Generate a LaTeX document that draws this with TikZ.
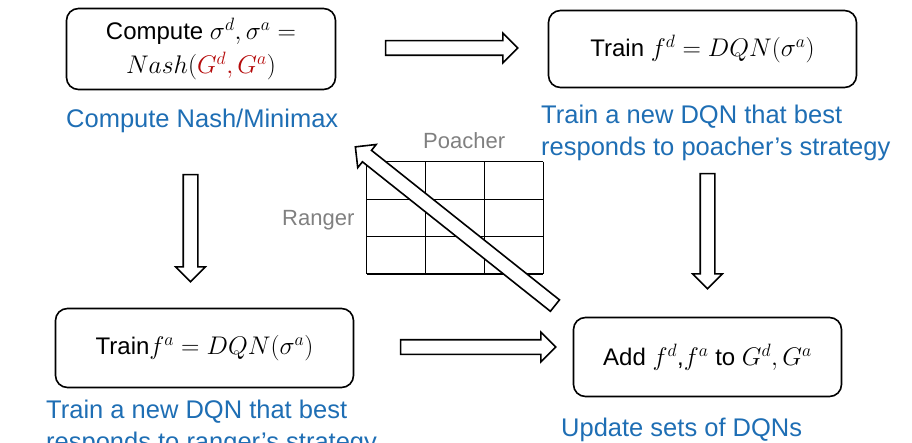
\RequirePackage{fix-cm}
\documentclass[tikz,border=0pt]{standalone}
\usepackage[no-math]{fontspec}
\setmainfont{Liberation Sans}
\usetikzlibrary{shapes.arrows}
\definecolor{capblue}{RGB}{30,110,180}
\definecolor{nashred}{RGB}{180,10,10}
\definecolor{labelgray}{RGB}{128,128,128}
\newcommand{\boxmath}[1]{{\fontsize{25.5}{34}\selectfont$#1$}}
\tikzset{
	stepbox/.style={draw, rounded corners=12pt, line width=1.6pt, align=center, inner sep=0pt, font=\fontsize{24}{34}\selectfont},
	caption/.style={anchor=north west, inner sep=0pt, align=left, text=capblue, font=\fontsize{25.5}{32}\selectfont},
	blockarrow/.style={single arrow, draw, fill=white, line width=1.6pt, inner xsep=0pt, inner ysep=6.5pt, single arrow head extend=7.5pt, minimum width=0pt, outer sep=0pt},
	axislabel/.style={anchor=base west, inner sep=0pt, text=labelgray, font=\fontsize{22}{26}\selectfont}
}

\begin{document}
\begin{tikzpicture}[x=1pt, y=-1pt]
		\useasboundingbox (0,0) rectangle (912,443);
		% matrice di gioco
		\foreach \i in {0,...,3} {
			\draw[line width=1.2pt] (366.7+58.87*\i,161.7) -- (366.7+58.87*\i,274);
			\draw[line width=1.2pt] (366.7,161.7+37.43*\i) -- (543.3,161.7+37.43*\i);
		}
		\node[axislabel] (poacher) at (423,149) {Poacher};
		\node[axislabel] (ranger) at (282,226) {Ranger};
		
		% nash
		\node[stepbox, minimum width=269pt, minimum height=81pt] (nash) at (201,49)
			{Compute \boxmath{\sigma^d,\sigma^a =}\\ \boxmath{Nash(\textcolor{nashred}{G^d,G^a})}};
		\node[caption] (nashcap) at (66,109) {Compute Nash/Minimax};
		% train ranger
		\node[stepbox, minimum width=308pt, minimum height=77pt] (traind) at (702.5,49)
			{Train \boxmath{f^d = DQN(\sigma^a)}};
		\node[caption] (traindcap) at (541,105) {Train a new DQN that best\\responds to poacher’s strategy};
		% train poacher
		\node[stepbox, minimum width=298pt, minimum height=79pt] (traina) at (204.5,348)
			{Train\boxmath{f^a = DQN(\sigma^a)}};
		\node[caption] (trainacap) at (46,400) {Train a new DQN that best\\responds to ranger’s strategy};
		% aggiorna
		\node[stepbox, minimum width=268pt, minimum height=79pt] (add) at (707.5,357)
			{Add \boxmath{f^d},\boxmath{f^a} to \boxmath{G^d,G^a}};
		\node[caption] (addcap) at (561,418) {Update sets of DQNs};
		
		% frecce
		\node[blockarrow, minimum height=132pt] (nashtod) at (448,48) {};
		\node[blockarrow, minimum height=107pt, rotate=-90] (nashtoa) at (190.5,224.5) {};
		\node[blockarrow, minimum height=155pt] (atoadd) at (474.5,347) {};
		\node[blockarrow, minimum height=115pt, rotate=-90] (dtoadd) at (707.5,227.5) {};
		\node[blockarrow, minimum height=255pt, rotate=141.5] (addtonash) at (458,228.5) {};
	\end{tikzpicture}
\end{document}
